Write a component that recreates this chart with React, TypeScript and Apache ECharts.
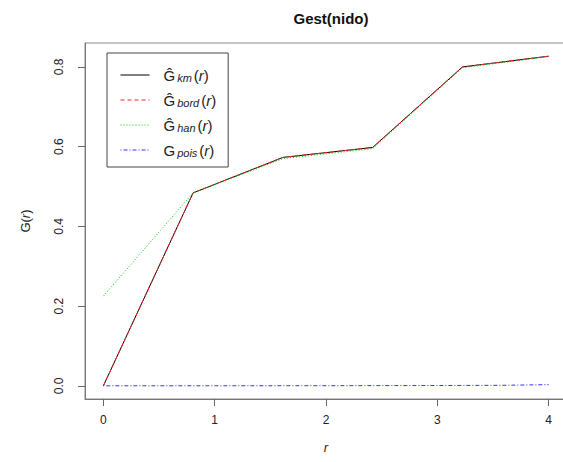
import React, { useEffect, useRef } from "react";
import * as echarts from "echarts";

// Data
const rSteps = [0, 0.806, 1.613, 2.419, 3.226, 4.0];
const gKm = [0, 0.484, 0.573, 0.598, 0.8, 0.827];
const gBord = [0, 0.484, 0.573, 0.598, 0.8, 0.827];
const gHan = [0.225, 0.484, 0.57, 0.595, 0.798, 0.826];
const rPois = [0, 1, 2, 3, 3.6, 4.0];
const gPois = [0, 0.0001, 0.0003, 0.0007, 0.0013, 0.003];
const xTicks = [0, 1, 2, 3, 4];
const yTicks = [0, 0.2, 0.4, 0.6, 0.8];

const pairs = (xs: number[], ys: number[]) => xs.map((x, i) => [x, ys[i]]);

const FONT = "'Liberation Sans', Arial, Helvetica, sans-serif";

export default function App() {
  const ref = useRef<HTMLDivElement>(null);
  useEffect(() => {
    if (!ref.current) return;
    const chart = echarts.init(ref.current, null, { renderer: "svg" });
    const legendLabel: Record<string, string> = {
      km: "{g|Ĝ}{sub|km}{p|(}{ri|r}{p|)}",
      bord: "{g|Ĝ}{sub|bord}{p|(}{ri|r}{p|)}",
      han: "{g|Ĝ}{sub|han}{p|(}{ri|r}{p|)}",
      pois: "{g|G}{sub|pois}{p|(}{ri|r}{p|)}",
    };
    chart.setOption({
      animation: false,
      backgroundColor: "#ffffff",
      title: {
        text: "Gest(nido)",
        left: 326,
        top: 6,
        textAlign: "center",
        textStyle: { fontFamily: FONT, fontSize: 15, fontWeight: "bold", color: "#111" },
      },
      grid: {
        left: 85,
        top: 43,
        width: 482,
        height: 356,
        show: true,
        borderColor: "#888",
        borderWidth: 1,
        outerBoundsMode: "none",
        containLabel: false,
      },
      legend: {
        orient: "vertical",
        left: 107,
        top: 53,
        padding: [13, 12, 8, 13],
        borderColor: "#444",
        borderWidth: 1,
        itemWidth: 29,
        itemHeight: 14,
        itemGap: 7,
        selectedMode: false,
        itemStyle: { opacity: 0 },
        lineStyle: { width: 1 },
        data: ["km", "bord", "han", "pois"],
        formatter: (name: string) => legendLabel[name],
        textStyle: {
          padding: [0, 0, 0, 9],
          rich: {
            g: { fontFamily: FONT, fontSize: 15, color: "#222", height: 18, lineHeight: 18 },
            sub: {
              fontFamily: FONT,
              fontSize: 11,
              fontStyle: "italic",
              color: "#222",
              padding: [6, 2, 0, 2],
              height: 12,
              lineHeight: 12,
            },
            p: { fontFamily: FONT, fontSize: 15, color: "#222", height: 18, lineHeight: 18 },
            ri: { fontFamily: FONT, fontSize: 15, fontStyle: "italic", color: "#222", height: 18, lineHeight: 18 },
          },
        },
      },
      xAxis: {
        type: "value",
        min: -0.165,
        max: 4.165,
        name: "r",
        nameLocation: "middle",
        nameGap: 42,
        nameTextStyle: { fontFamily: FONT, fontSize: 13, fontStyle: "italic", color: "#222" },
        axisLine: { show: true, onZero: false, lineStyle: { color: "#777", width: 1 } },
        axisTick: { show: true, length: 7, customValues: xTicks, lineStyle: { color: "#666" } },
        axisLabel: {
          customValues: xTicks,
          margin: 15,
          fontFamily: FONT,
          fontSize: 12,
          color: "#222",
        },
        splitLine: { show: false },
      },
      yAxis: {
        type: "value",
        min: -0.0331,
        max: 0.8601,
        name: "{a|G(}{b|r}{a|)}",
        nameLocation: "middle",
        nameGap: 53,
        nameRotate: 90,
        nameTextStyle: {
          fontFamily: FONT,
          fontSize: 13,
          color: "#222",
          rich: {
            a: { fontFamily: FONT, fontSize: 13, color: "#222" },
            b: { fontFamily: FONT, fontSize: 13, fontStyle: "italic", color: "#222" },
          },
        },
        axisLine: { show: true, onZero: false, lineStyle: { color: "#777", width: 1 } },
        axisTick: { show: true, length: 7, customValues: yTicks, lineStyle: { color: "#666" } },
        axisLabel: {
          customValues: yTicks,
          rotate: 90,
          margin: 20,
          fontFamily: FONT,
          fontSize: 12,
          color: "#222",
          formatter: (v: number) => v.toFixed(1),
        },
        splitLine: { show: false },
      },
      series: [
        {
          name: "km",
          type: "line",
          data: pairs(rSteps, gKm),
          symbol: "none",
          lineStyle: { color: "#000000", width: 1, type: "solid" },
          itemStyle: { color: "#000000" },
        },
        {
          name: "bord",
          type: "line",
          data: pairs(rSteps, gBord),
          symbol: "none",
          lineStyle: { color: "#ff2020", width: 1, type: [4, 3] },
          itemStyle: { color: "#ff2020" },
        },
        {
          name: "han",
          type: "line",
          data: pairs(rSteps, gHan),
          symbol: "none",
          lineStyle: { color: "#00cc00", width: 1, type: [1, 2] },
          itemStyle: { color: "#00cc00" },
        },
        {
          name: "pois",
          type: "line",
          data: pairs(rPois, gPois),
          symbol: "none",
          lineStyle: { color: "#3333ff", width: 1, type: [1, 2, 4, 2] },
          itemStyle: { color: "#3333ff" },
        },
      ],
    });
    return () => chart.dispose();
  }, []);
  return (
    <div
      ref={ref}
      style={{ position: "fixed", left: 0, top: 0, width: 563, height: 462 }}
    />
  );
}
